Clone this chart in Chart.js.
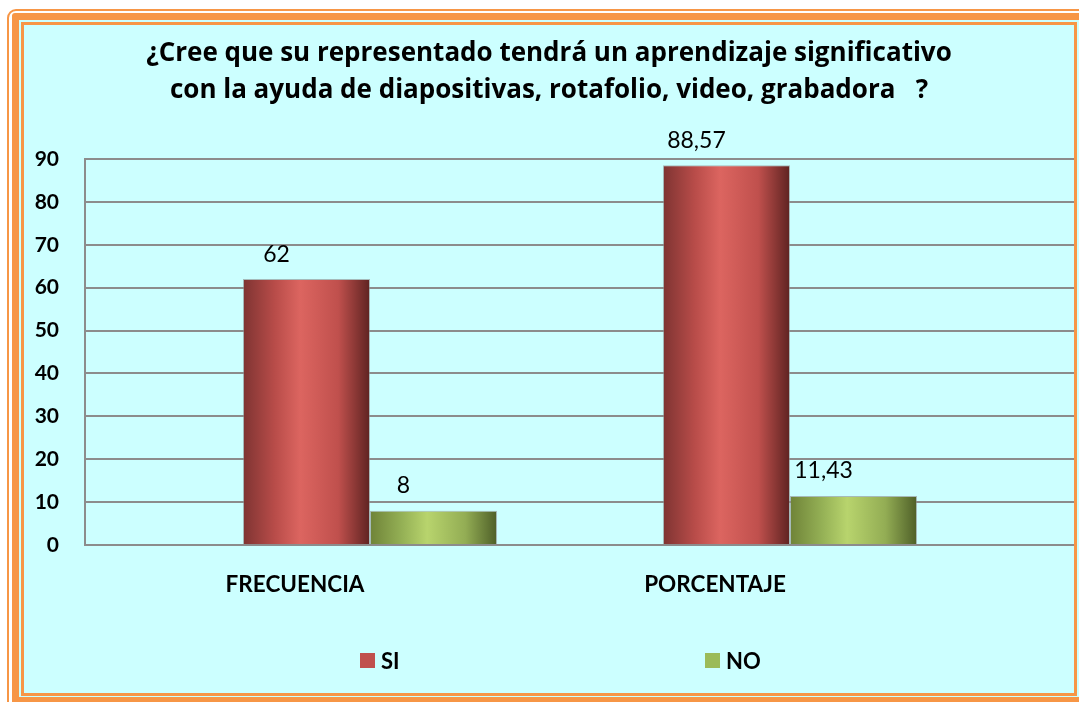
<!DOCTYPE html>
<html>
<head>
<meta charset="utf-8">
<script src="https://cdn.jsdelivr.net/npm/chart.js@4/dist/chart.umd.min.js"></script>
<style>
  body { margin: 0; background: #fff; overflow: hidden; width: 1079px; height: 702px; position: relative; font-family: Lato, sans-serif; }
  .frame-outer { position: absolute; left: 7px; top: 9px; width: 1100px; height: 720px; border: 2px solid #f79646; border-radius: 9px; box-sizing: border-box; }
  .frame-thick { position: absolute; left: 12px; top: 13px; width: 1076px; height: 691px; border: 7px solid #f79646; border-radius: 3px; background: #ccffff; box-sizing: border-box; }
  .frame-inner { position: absolute; left: 21px; top: 22px; width: 1056px; height: 674px; border: 3px solid #f79646; background: #ccffff; box-sizing: border-box; }
  #chartWrap { position: absolute; left: 24px; top: 25px; width: 1050px; height: 668px; }
  #legend { position: absolute; top: 647px; left: 0; width: 1079px; height: 24px; }
  .leg-item { position: absolute; top: 0; display: flex; align-items: center; font-weight: bold; font-size: 22px; color: #000; }
  .leg-box { width: 15px; height: 15px; margin-right: 6px; }
</style>
</head>
<body>
<div class="frame-outer"></div>
<div class="frame-thick"></div>
<div class="frame-inner"></div>
<div id="chartWrap"><canvas id="surveyChart" width="1050" height="668"></canvas></div>
<div id="legend"></div>

<script>
const titleLines = [
    '¿Cree que su representado tendrá un aprendizaje significativo',
    'con la ayuda de diapositivas, rotafolio, video, grabadora   ?'
];
const categories = ['FRECUENCIA', 'PORCENTAJE'];
const seriesNames = ['SI', 'NO'];
const siValues = [62, 88.57];
const noValues = [8, 11.43];
const yMin = 0;
const yMax = 90;
const yStep = 10;

const seriesColors = ['#c0504d', '#9bbb59'];
// light/dark stops for the cylinder-like shading
const shading = [
    ['#7e3432', '#b84c49', '#dc6560', '#c0504d', '#5e2321'],
    ['#6f8338', '#94b055', '#b8d46d', '#93ad54', '#4e5f28']
];

Chart.defaults.font.family = 'Lato, sans-serif';
Chart.defaults.color = '#000';

const barShading = {
    id: 'barShading',
    beforeDatasetsDraw(chart) {
        const ctx = chart.ctx;
        chart.data.datasets.forEach((ds, i) => {
            const stops = shading[i];
            chart.getDatasetMeta(i).data.forEach(bar => {
                const left = bar.x - bar.width / 2;
                const g = ctx.createLinearGradient(left, 0, left + bar.width, 0);
                g.addColorStop(0, stops[0]);
                g.addColorStop(0.25, stops[1]);
                g.addColorStop(0.45, stops[2]);
                g.addColorStop(0.75, stops[3]);
                g.addColorStop(1, stops[4]);
                bar.options = Object.assign({}, bar.options, { backgroundColor: g });
            });
        });
    }
};

const valueLabels = {
    id: 'valueLabels',
    afterDatasetsDraw(chart) {
        const ctx = chart.ctx;
        ctx.save();
        ctx.font = '23px Lato, sans-serif';
        ctx.fillStyle = '#000';
        ctx.textAlign = 'center';
        ctx.textBaseline = 'middle';
        chart.data.datasets.forEach((ds, i) => {
            chart.getDatasetMeta(i).data.forEach((bar, j) => {
                const txt = String(ds.data[j].y).replace('.', ',');
                ctx.fillText(txt, bar.x - 30, bar.y - 25);
            });
        });
        ctx.restore();
    }
};

function toPoints(values) {
    return values.map((v, i) => ({ x: i + 1, y: v }));
}

const ctx = document.getElementById('surveyChart').getContext('2d');
const chart = new Chart(ctx, {
    type: 'bar',
    data: {
        datasets: [
            { label: seriesNames[0], data: toPoints(siValues), backgroundColor: seriesColors[0], borderColor: 'rgba(140,140,140,0.6)', borderWidth: 1 },
            { label: seriesNames[1], data: toPoints(noValues), backgroundColor: seriesColors[1], borderColor: 'rgba(140,140,140,0.6)', borderWidth: 1 }
        ]
    },
    options: {
        responsive: false,
        animation: false,
        devicePixelRatio: 1,
        categoryPercentage: 0.605,
        barPercentage: 1,
        layout: { padding: { top: 0, left: 0, right: 0, bottom: 88 } },
        plugins: {
            legend: { display: false },
            tooltip: { enabled: false },
            title: {
                display: true,
                text: titleLines,
                color: '#000',
                font: { family: '"Open Sans", sans-serif', size: 26, weight: 'bold', lineHeight: 1.423 },
                padding: { top: 10.5, bottom: 49.5 }
            }
        },
        scales: {
            x: {
                type: 'linear',
                offset: false,
                min: 0.3214,
                max: 2.6762,
                afterBuildTicks: s => { s.ticks = categories.map((c, i) => ({ value: i + 1 })); },
                afterFit: s => { s.height = 60; },
                ticks: {
                    callback: (v, i) => categories[i],
                    labelOffset: -75,
                    padding: 18,
                    maxRotation: 0,
                    autoSkip: false,
                    font: { size: 22.5, weight: 'bold' }
                },
                grid: { display: false },
                border: { display: true, color: '#8c8c8c', width: 2 }
            },
            y: {
                min: yMin,
                max: yMax,
                afterFit: s => { s.width = 61; },
                ticks: { stepSize: yStep, padding: 26, font: { size: 21, weight: 'bold' } },
                grid: { color: '#8c8c8c', lineWidth: 2, drawTicks: false },
                border: { color: '#8c8c8c', width: 2 }
            }
        }
    },
    plugins: [barShading, valueLabels]
});

// legend as html, spread apart like the original
const legendLeft = [360, 705];
const legendEl = document.getElementById('legend');
chart.data.datasets.forEach((ds, i) => {
    const item = document.createElement('div');
    item.className = 'leg-item';
    item.style.left = legendLeft[i] + 'px';
    item.innerHTML = '<span class="leg-box" style="background:' + seriesColors[i] + '"></span>' + ds.label;
    legendEl.appendChild(item);
});
</script>
</body>
</html>
